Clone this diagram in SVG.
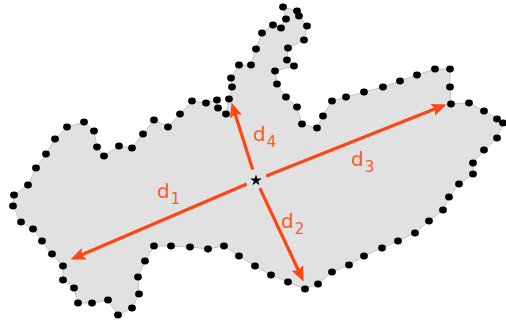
<svg xmlns="http://www.w3.org/2000/svg" width="506" height="322" viewBox="0 0 506 322">
<defs>
<style>
.shape{fill:#e1e1e1;stroke:#c4c4c4;stroke-width:1;stroke-linejoin:round}
.dot{fill:#000}
.arr{stroke:#ff4512;stroke-width:3.2;fill:none;marker-end:url(#ah)}
.lbl{font-family:"DejaVu Sans",Verdana,sans-serif;font-size:20px;fill:#ff5a24}
.sub{font-size:15px}
</style>
<marker id="ah" markerUnits="userSpaceOnUse" markerWidth="16" markerHeight="14" viewBox="0 -6 14 12" refX="9" refY="0" orient="auto">
<path d="M0,-5.5 L13,0 L0,5.5 L2.5,0 z" fill="#ff4512"/>
</marker>
</defs>
<rect width="506" height="322" fill="#fff"/>
<g id="region">
<polygon class="shape" points="13,206 14,195 28,185 36,168 46,154 55,139 67,127 84,122 94,131 97,147 104,156 119,146 132,148 143,134 154,120 168,127 180,114 192,101 206,103 217,100 218,108 226,114 229,99 232,87 231,78 239,65 251,65 256,49 262,33 273,25 281,28 286,19 283,7 297,11 299,16 307,26 304,40 288,48 287,60 294,66 275,71 277,84 286,97 297,107 302,124 317,128 323,116 332,101 346,97 364,92 383,87 400,81 417,75 435,69 450,69 450,87 451,104 469,103 484,111 497,119 503,123 497,138 484,150 473,163 473,174 459,184 449,197 443,210 429,221 415,233 398,241 382,248 364,256 349,265 332,272 318,284 305,289 288,282 271,275 255,266 239,256 224,246 208,249 190,247 171,246 154,246 145,261 138,277 139,294 132,308 118,315 108,300 92,303 78,303 74,288 63,280 63,266 52,254 42,241 33,229 21,222"/>
</g>
<g id="boundary-points">
<ellipse class="dot" cx="13" cy="206" rx="3.9" ry="3.4"/>
<ellipse class="dot" cx="14" cy="195" rx="3.9" ry="3.4"/>
<ellipse class="dot" cx="28" cy="185" rx="3.9" ry="3.4"/>
<ellipse class="dot" cx="36" cy="168" rx="3.9" ry="3.4"/>
<ellipse class="dot" cx="46" cy="154" rx="3.9" ry="3.4"/>
<ellipse class="dot" cx="55" cy="139" rx="3.9" ry="3.4"/>
<ellipse class="dot" cx="67" cy="127" rx="3.9" ry="3.4"/>
<ellipse class="dot" cx="84" cy="122" rx="3.9" ry="3.4"/>
<ellipse class="dot" cx="94" cy="131" rx="3.9" ry="3.4"/>
<ellipse class="dot" cx="97" cy="147" rx="3.9" ry="3.4"/>
<ellipse class="dot" cx="104" cy="156" rx="3.9" ry="3.4"/>
<ellipse class="dot" cx="119" cy="146" rx="3.9" ry="3.4"/>
<ellipse class="dot" cx="132" cy="148" rx="3.9" ry="3.4"/>
<ellipse class="dot" cx="143" cy="134" rx="3.9" ry="3.4"/>
<ellipse class="dot" cx="154" cy="120" rx="3.9" ry="3.4"/>
<ellipse class="dot" cx="168" cy="127" rx="3.9" ry="3.4"/>
<ellipse class="dot" cx="180" cy="114" rx="3.9" ry="3.4"/>
<ellipse class="dot" cx="192" cy="101" rx="3.9" ry="3.4"/>
<ellipse class="dot" cx="206" cy="103" rx="3.9" ry="3.4"/>
<ellipse class="dot" cx="217" cy="100" rx="3.9" ry="3.4"/>
<ellipse class="dot" cx="218" cy="108" rx="3.9" ry="3.4"/>
<ellipse class="dot" cx="226" cy="114" rx="3.9" ry="3.4"/>
<ellipse class="dot" cx="229" cy="99" rx="3.9" ry="3.4"/>
<ellipse class="dot" cx="232" cy="87" rx="3.9" ry="3.4"/>
<ellipse class="dot" cx="231" cy="78" rx="3.9" ry="3.4"/>
<ellipse class="dot" cx="239" cy="65" rx="3.9" ry="3.4"/>
<ellipse class="dot" cx="251" cy="65" rx="3.9" ry="3.4"/>
<ellipse class="dot" cx="256" cy="49" rx="3.9" ry="3.4"/>
<ellipse class="dot" cx="262" cy="33" rx="3.9" ry="3.4"/>
<ellipse class="dot" cx="273" cy="25" rx="3.9" ry="3.4"/>
<ellipse class="dot" cx="281" cy="28" rx="3.9" ry="3.4"/>
<ellipse class="dot" cx="286" cy="19" rx="3.9" ry="3.4"/>
<ellipse class="dot" cx="283" cy="7" rx="3.9" ry="3.4"/>
<ellipse class="dot" cx="297" cy="11" rx="3.9" ry="3.4"/>
<ellipse class="dot" cx="299" cy="16" rx="3.9" ry="3.4"/>
<ellipse class="dot" cx="307" cy="26" rx="3.9" ry="3.4"/>
<ellipse class="dot" cx="304" cy="40" rx="3.9" ry="3.4"/>
<ellipse class="dot" cx="288" cy="48" rx="3.9" ry="3.4"/>
<ellipse class="dot" cx="287" cy="60" rx="3.9" ry="3.4"/>
<ellipse class="dot" cx="294" cy="66" rx="3.9" ry="3.4"/>
<ellipse class="dot" cx="275" cy="71" rx="3.9" ry="3.4"/>
<ellipse class="dot" cx="277" cy="84" rx="3.9" ry="3.4"/>
<ellipse class="dot" cx="286" cy="97" rx="3.9" ry="3.4"/>
<ellipse class="dot" cx="297" cy="107" rx="3.9" ry="3.4"/>
<ellipse class="dot" cx="302" cy="124" rx="3.9" ry="3.4"/>
<ellipse class="dot" cx="317" cy="128" rx="3.9" ry="3.4"/>
<ellipse class="dot" cx="323" cy="116" rx="3.9" ry="3.4"/>
<ellipse class="dot" cx="332" cy="101" rx="3.9" ry="3.4"/>
<ellipse class="dot" cx="346" cy="97" rx="3.9" ry="3.4"/>
<ellipse class="dot" cx="364" cy="92" rx="3.9" ry="3.4"/>
<ellipse class="dot" cx="383" cy="87" rx="3.9" ry="3.4"/>
<ellipse class="dot" cx="400" cy="81" rx="3.9" ry="3.4"/>
<ellipse class="dot" cx="417" cy="75" rx="3.9" ry="3.4"/>
<ellipse class="dot" cx="435" cy="69" rx="3.9" ry="3.4"/>
<ellipse class="dot" cx="450" cy="69" rx="3.9" ry="3.4"/>
<ellipse class="dot" cx="450" cy="87" rx="3.9" ry="3.4"/>
<ellipse class="dot" cx="451" cy="104" rx="3.9" ry="3.4"/>
<ellipse class="dot" cx="469" cy="103" rx="3.9" ry="3.4"/>
<ellipse class="dot" cx="484" cy="111" rx="3.9" ry="3.4"/>
<ellipse class="dot" cx="497" cy="119" rx="3.9" ry="3.4"/>
<ellipse class="dot" cx="503" cy="123" rx="3.9" ry="3.4"/>
<ellipse class="dot" cx="497" cy="138" rx="3.9" ry="3.4"/>
<ellipse class="dot" cx="484" cy="150" rx="3.9" ry="3.4"/>
<ellipse class="dot" cx="473" cy="163" rx="3.9" ry="3.4"/>
<ellipse class="dot" cx="473" cy="174" rx="3.9" ry="3.4"/>
<ellipse class="dot" cx="459" cy="184" rx="3.9" ry="3.4"/>
<ellipse class="dot" cx="449" cy="197" rx="3.9" ry="3.4"/>
<ellipse class="dot" cx="443" cy="210" rx="3.9" ry="3.4"/>
<ellipse class="dot" cx="429" cy="221" rx="3.9" ry="3.4"/>
<ellipse class="dot" cx="415" cy="233" rx="3.9" ry="3.4"/>
<ellipse class="dot" cx="398" cy="241" rx="3.9" ry="3.4"/>
<ellipse class="dot" cx="382" cy="248" rx="3.9" ry="3.4"/>
<ellipse class="dot" cx="364" cy="256" rx="3.9" ry="3.4"/>
<ellipse class="dot" cx="349" cy="265" rx="3.9" ry="3.4"/>
<ellipse class="dot" cx="332" cy="272" rx="3.9" ry="3.4"/>
<ellipse class="dot" cx="318" cy="284" rx="3.9" ry="3.4"/>
<ellipse class="dot" cx="305" cy="289" rx="3.9" ry="3.4"/>
<ellipse class="dot" cx="288" cy="282" rx="3.9" ry="3.4"/>
<ellipse class="dot" cx="271" cy="275" rx="3.9" ry="3.4"/>
<ellipse class="dot" cx="255" cy="266" rx="3.9" ry="3.4"/>
<ellipse class="dot" cx="239" cy="256" rx="3.9" ry="3.4"/>
<ellipse class="dot" cx="224" cy="246" rx="3.9" ry="3.4"/>
<ellipse class="dot" cx="208" cy="249" rx="3.9" ry="3.4"/>
<ellipse class="dot" cx="190" cy="247" rx="3.9" ry="3.4"/>
<ellipse class="dot" cx="171" cy="246" rx="3.9" ry="3.4"/>
<ellipse class="dot" cx="154" cy="246" rx="3.9" ry="3.4"/>
<ellipse class="dot" cx="145" cy="261" rx="3.9" ry="3.4"/>
<ellipse class="dot" cx="138" cy="277" rx="3.9" ry="3.4"/>
<ellipse class="dot" cx="139" cy="294" rx="3.9" ry="3.4"/>
<ellipse class="dot" cx="132" cy="308" rx="3.9" ry="3.4"/>
<ellipse class="dot" cx="118" cy="315" rx="3.9" ry="3.4"/>
<ellipse class="dot" cx="108" cy="300" rx="3.9" ry="3.4"/>
<ellipse class="dot" cx="92" cy="303" rx="3.9" ry="3.4"/>
<ellipse class="dot" cx="78" cy="303" rx="3.9" ry="3.4"/>
<ellipse class="dot" cx="74" cy="288" rx="3.9" ry="3.4"/>
<ellipse class="dot" cx="63" cy="280" rx="3.9" ry="3.4"/>
<ellipse class="dot" cx="63" cy="266" rx="3.9" ry="3.4"/>
<ellipse class="dot" cx="52" cy="254" rx="3.9" ry="3.4"/>
<ellipse class="dot" cx="42" cy="241" rx="3.9" ry="3.4"/>
<ellipse class="dot" cx="33" cy="229" rx="3.9" ry="3.4"/>
<ellipse class="dot" cx="21" cy="222" rx="3.9" ry="3.4"/>
</g>
<g id="connectors">
<path class="arr" d="M266.2,175.9 L442.2,106.1"/>
<path class="arr" d="M246.8,184 L74.8,257.8"/>
<path class="arr" d="M252.7,169.5 L232.9,106.9"/>
<path class="arr" d="M259.8,188.1 L301.7,277.3"/>
</g>
<g id="centroid">
<polygon points="256,174.5 257.4,178.6 261.7,178.6 258.2,181.2 259.5,185.3 256,182.8 252.5,185.3 253.8,181.2 250.3,178.6 254.6,178.6" fill="#000"/>
</g>
<g id="labels">
<text class="lbl" x="157" y="198">d<tspan class="sub" dx="1" dy="6">1</tspan></text>
<text class="lbl" x="281" y="228">d<tspan class="sub" dx="1" dy="6">2</tspan></text>
<text class="lbl" x="351" y="166">d<tspan class="sub" dx="1" dy="6">3</tspan></text>
<text class="lbl" x="253" y="141">d<tspan class="sub" dx="1" dy="6">4</tspan></text>
</g>
</svg>
